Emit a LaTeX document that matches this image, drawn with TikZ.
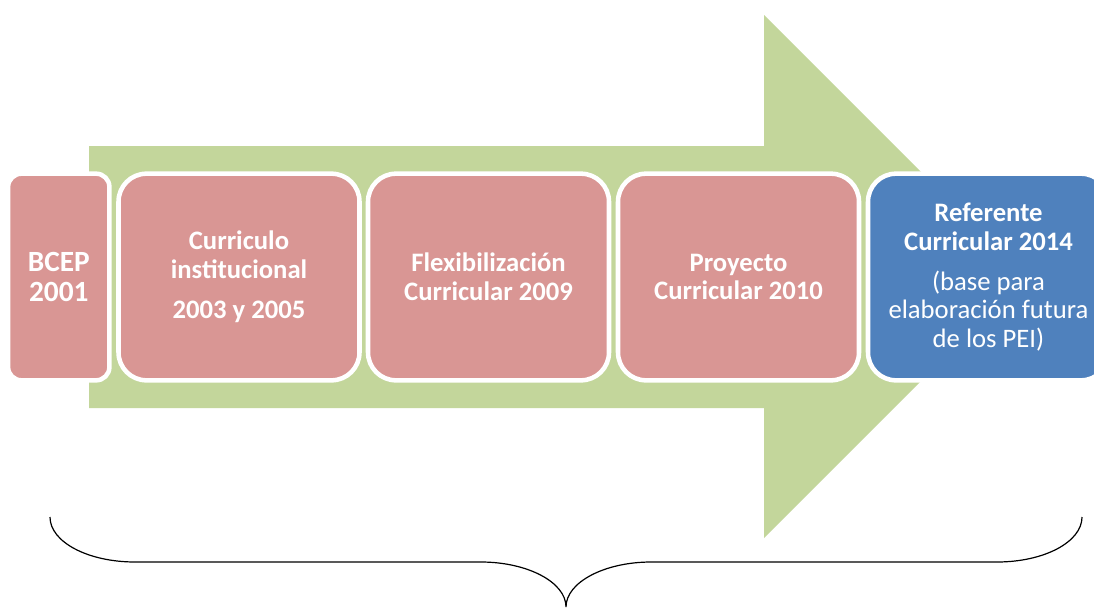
\documentclass[tikz,border=0pt]{standalone}
\usepackage{fontspec}
\setmainfont{Carlito}

\definecolor{arrowgreen}{HTML}{C3D69B}
\definecolor{stagepink}{HTML}{D99694}
\definecolor{stageblue}{HTML}{4F81BD}

\tikzset{
  stage/.style={draw=white, line width=3.4pt, rounded corners=21pt,
    fill=stagepink, text=white, align=center, inner sep=0pt,
    minimum width=180.75pt, minimum height=155pt,
    font=\fontsize{20}{21.5}\selectfont\bfseries},
}

\begin{document}
\begin{tikzpicture}[x=0.75pt, y=-0.75pt]
    \useasboundingbox (0,0) rectangle (1094,607);
    \clip (0,0) rectangle (1094,607);

    % big arrow behind the stages
    \fill[arrowgreen] (89,146) -- (764,146) -- (764,15) -- (1025.5,276.5)
      -- (764,538) -- (764,408) -- (89,408) -- cycle;

    \node[stage, minimum width=76pt, rounded corners=10pt,
      font=\fontsize{22}{23}\selectfont\bfseries] (bcep) at (58.75,277) {BCEP\\2001};
    \node[stage] (inst) at (239,277) {Curriculo\\institucional\\[8.5pt]2003 y 2005};
    \node[stage] (flex) at (488.5,277) {Flexibilización\\Curricular 2009};
    \node[stage] (proy) at (738.5,277) {Proyecto\\Curricular 2010};
    \node[stage, fill=stageblue] (ref) at (988.5,277)
      {Referente\\Curricular 2014\\[8.5pt]\mdseries (base para\\\mdseries elaboración futura\\\mdseries de los PEI)};

    % brace under the arrow
    \draw[line width=0.9pt] (50,517) .. controls (50,542) and (88,562) .. (135,562)
      -- (481,562) .. controls (527,562) and (566,582) .. (566,607)
      .. controls (566,582) and (605,562) .. (651,562)
      -- (997,562) .. controls (1044,562) and (1082,542) .. (1082,517);
  \end{tikzpicture}
\end{document}
